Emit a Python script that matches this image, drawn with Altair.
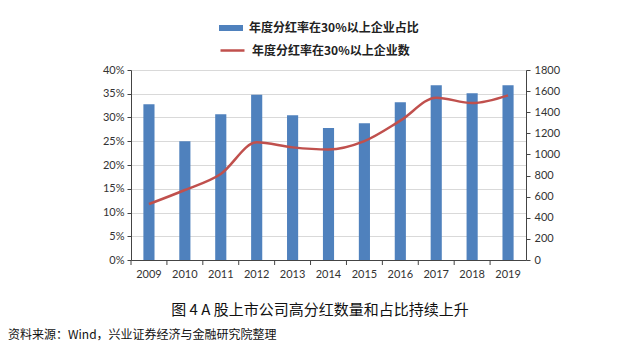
import altair as alt
import pandas as pd

years = ["2009", "2010", "2011", "2012", "2013", "2014", "2015", "2016", "2017", "2018", "2019"]
share = [0.328, 0.250, 0.307, 0.348, 0.305, 0.278, 0.288, 0.332, 0.368, 0.351, 0.368]
count = [530, 663, 815, 1115, 1067, 1048, 1127, 1320, 1538, 1487, 1560]

bar_name = "年度分红率在30%以上企业占比"
line_name = "年度分红率在30%以上企业数"
caption = "图 4 A 股上市公司高分红数量和占比持续上升"
source = "资料来源：Wind，兴业证券经济与金融研究院整理"

df = pd.DataFrame({"year": years, "share": share, "count": count,
                   "s1": [bar_name] * len(years), "s2": [line_name] * len(years)})

W, H = 395, 190
axis_font = "Lato"
PI = 0.69
step = W / len(years)
xscale = alt.Scale(paddingInner=PI, paddingOuter=PI / 2)
xaxis = alt.Axis(labelAngle=0, ticks=False, domain=True, domainColor="#444",
                 labelFont=axis_font, labelFontSize=11, labelColor="#333",
                 labelPadding=8, grid=False)

bars = alt.Chart(df).mark_bar(color="#4F81BD").encode(
    x=alt.X("year:N", scale=xscale, title=None, axis=xaxis),
    y=alt.Y("share:Q", title=None,
            scale=alt.Scale(domain=[0, 0.4], nice=False),
            axis=alt.Axis(format=".0%", values=[i * 0.05 for i in range(9)],
                          labelFont=axis_font, labelFontSize=11, labelColor="#333",
                          domainColor="#444", tickColor="#444", tickSize=4,
                          gridColor="#d9d9d9", labelPadding=3)),
    fill=alt.Fill("s1:N", scale=alt.Scale(range=["#4F81BD"]), title=None,
                  legend=alt.Legend(orient="none", legendX=88, legendY=-54,
                                    symbolType="M-1,-0.25H1V0.25H-1Z", symbolSize=576,
                                    symbolStrokeWidth=0, labelFont="Noto Sans CJK SC",
                                    labelFontWeight="bold", labelFontSize=12, labelLimit=400,
                                    labelColor="#222", labelOffset=6)),
)

xticks = alt.Chart(df).mark_rule(color="#444", strokeWidth=1,
                                 xOffset=-step * PI / 2).encode(
    x=alt.X("year:N", scale=xscale, title=None, axis=xaxis, bandPosition=0),
    y=alt.value(H), y2=alt.value(H + 5),
)

line = alt.Chart(df).mark_line(strokeWidth=2.5, interpolate="monotone").encode(
    x=alt.X("year:N", scale=xscale, title=None, axis=xaxis),
    y=alt.Y("count:Q", title=None,
            scale=alt.Scale(domain=[0, 1800], nice=False),
            axis=alt.Axis(orient="right", values=list(range(0, 1801, 200)), format="d",
                          labelFont=axis_font, labelFontSize=11, labelColor="#333",
                          domainColor="#444", tickColor="#444", tickSize=4,
                          grid=False, labelPadding=4)),
    stroke=alt.Stroke("s2:N", scale=alt.Scale(range=["#C0504D"]), title=None,
                      legend=alt.Legend(orient="none", legendX=88, legendY=-33,
                                        symbolType="stroke", symbolSize=576,
                                        symbolStrokeWidth=2.5, labelFont="Noto Sans CJK SC",
                                        labelFontWeight="bold", labelFontSize=12, labelLimit=400,
                                        labelColor="#222", labelOffset=6)),
)

tdf = pd.DataFrame({"cap": [caption], "src": [source]})
cap_text = alt.Chart(tdf).mark_text(font="Noto Sans CJK SC", fontSize=15, color="#111",
                                    align="center", baseline="middle").encode(
    text="cap:N", x=alt.value(189), y=alt.value(240))
src_text = alt.Chart(tdf).mark_text(font="Noto Sans CJK SC", fontSize=12, color="#111",
                                    align="left", baseline="middle").encode(
    text="src:N", x=alt.value(-123), y=alt.value(265))

chart = alt.layer(bars, xticks, line, cap_text, src_text).resolve_scale(
    y="independent", fill="independent", stroke="independent"
).properties(
    width=W, height=H,
    autosize=alt.AutoSizeParams(type="none"),
    padding={"left": 131, "top": 70, "right": 114, "bottom": 93},
    background="white",
).configure_view(stroke=None)

chart.save("out.html", embed_options={"renderer": "svg", "actions": False})
